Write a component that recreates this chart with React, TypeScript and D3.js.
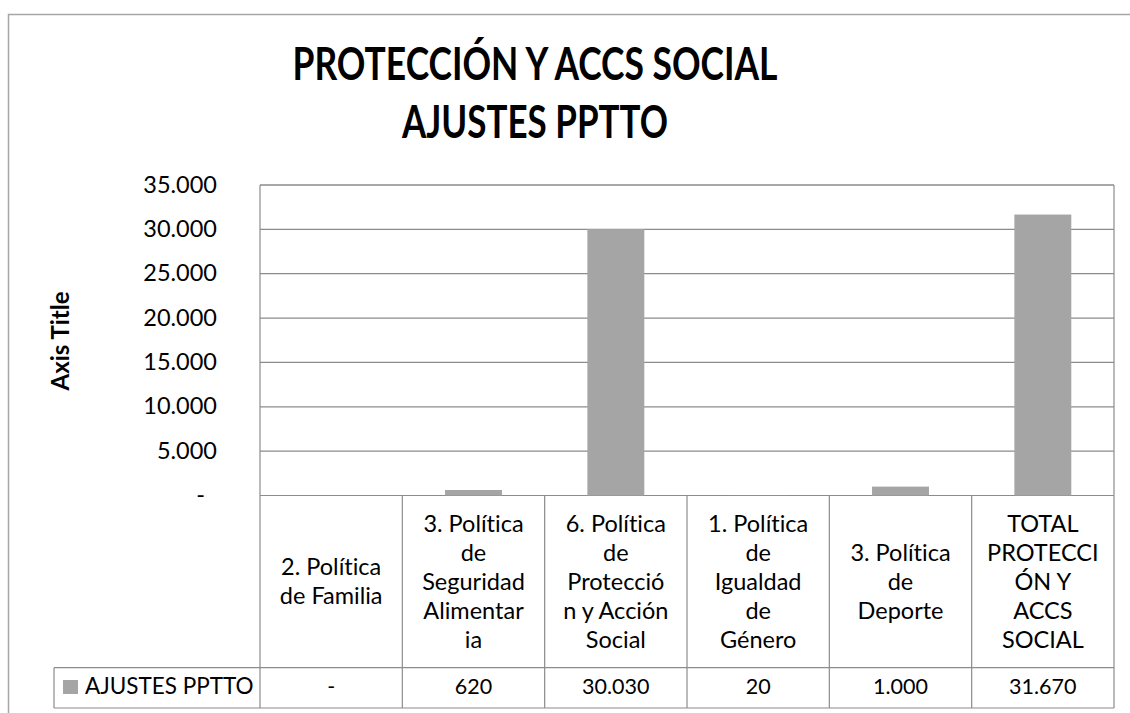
import React, { useEffect, useRef } from 'react';
import * as d3 from 'd3';

// categories as they appear wrapped in the data table under the chart
const categoryLines: string[][] = [
    ['2. Política', 'de Familia'],
    ['3. Política', 'de', 'Seguridad', 'Alimentar', 'ia'],
    ['6. Política', 'de', 'Protecció', 'n y Acción', 'Social'],
    ['1. Política', 'de', 'Igualdad', 'de', 'Género'],
    ['3. Política', 'de', 'Deporte'],
    ['TOTAL', 'PROTECCI', 'ÓN Y', 'ACCS', 'SOCIAL'],
];
const ajustes: number[] = [0, 620, 30030, 20, 1000, 31670];
const seriesName = 'AJUSTES PPTTO';
const yTicks: number[] = [0, 5000, 10000, 15000, 20000, 25000, 30000, 35000];
const titleLines: string[] = ['PROTECCIÓN Y ACCS SOCIAL', 'AJUSTES PPTTO'];

const fmt = (v: number) => (v === 0 ? '-' : d3.format(',.0f')(v).replace(/,/g, '.'));

function App() {
    const ref = useRef<SVGSVGElement>(null);

    useEffect(() => {
        const svg = d3.select(ref.current);
        svg.selectAll('*').remove();

        const width = 1130, height = 713;
        const left = 260, right = 1114, top = 185, bottom = 495.5;
        const rowY = 667.7, tableBottom = 708, legendLeft = 54;
        const font = 'Lato, "Open Sans", sans-serif';
        const gridColor = '#8c8c8c';
        const barColor = '#a5a5a5';

        svg.append('rect')
            .attr('width', width).attr('height', height).attr('fill', 'white');

        // chart frame (runs off the right and bottom)
        svg.append('rect')
            .attr('x', 8.5).attr('y', 14.5)
            .attr('width', width).attr('height', height)
            .attr('fill', 'none').attr('stroke', '#a6a6a6').attr('stroke-width', 1.5);

        const x = d3.scaleBand<number>()
            .domain(ajustes.map((_, i) => i))
            .range([left, right]);
        const y = d3.scaleLinear().domain([0, 35000]).range([bottom, top]);

        // title (Lato is wider than the original face, so squeeze it to width)
        const titleWidths = [485, 266];
        svg.append('g')
            .selectAll('text')
            .data(titleLines)
            .enter().append('text')
            .attr('x', 535).attr('y', (d, i) => 80 + i * 58)
            .attr('text-anchor', 'middle')
            .attr('textLength', (d, i) => titleWidths[i])
            .attr('lengthAdjust', 'spacingAndGlyphs')
            .attr('font-family', font).attr('font-weight', 'bold')
            .attr('font-size', 45).attr('fill', '#000')
            .text(d => d);

        // gridlines
        svg.append('g')
            .selectAll('line')
            .data(yTicks)
            .enter().append('line')
            .attr('x1', left).attr('x2', right)
            .attr('y1', d => y(d)).attr('y2', d => y(d))
            .attr('stroke', gridColor).attr('stroke-width', 1.2);

        // y tick labels
        svg.append('g')
            .selectAll('text')
            .data(yTicks)
            .enter().append('text')
            .attr('x', d => (d === 0 ? 205 : 217))
            .attr('y', d => y(d) + 7.5)
            .attr('text-anchor', 'end')
            .attr('font-family', font).attr('font-size', 23.5).attr('fill', '#000')
            .text(d => fmt(d));

        // axis title
        svg.append('text')
            .attr('transform', 'translate(69,341) rotate(-90)')
            .attr('text-anchor', 'middle')
            .attr('font-family', font).attr('font-weight', 'bold')
            .attr('font-size', 24).attr('fill', '#000')
            .text('Axis Title');

        // bars
        const barW = x.bandwidth() * 0.4;
        svg.append('g')
            .selectAll('rect')
            .data(ajustes)
            .enter().append('rect')
            .attr('x', (d, i) => (x(i) as number) + (x.bandwidth() - barW) / 2)
            .attr('y', d => y(d))
            .attr('width', barW)
            .attr('height', d => bottom - y(d))
            .attr('fill', barColor);

        // data table
        const t = svg.append('g').attr('stroke', gridColor).attr('stroke-width', 1.2);
        t.append('line').attr('x1', left).attr('x2', left).attr('y1', top).attr('y2', tableBottom);
        t.append('line').attr('x1', left).attr('x2', right).attr('y1', top).attr('y2', top);
        t.append('line').attr('x1', legendLeft).attr('x2', right).attr('y1', rowY).attr('y2', rowY);
        t.append('line').attr('x1', legendLeft).attr('x2', right).attr('y1', tableBottom).attr('y2', tableBottom);
        t.append('line').attr('x1', legendLeft).attr('x2', legendLeft).attr('y1', rowY).attr('y2', tableBottom);
        t.selectAll('.sep')
            .data(ajustes)
            .enter().append('line')
            .attr('class', 'sep')
            .attr('x1', (d, i) => (x(i) as number) + x.bandwidth())
            .attr('x2', (d, i) => (x(i) as number) + x.bandwidth())
            .attr('y1', bottom).attr('y2', tableBottom);
        t.append('line').attr('x1', right).attr('x2', right).attr('y1', top).attr('y2', bottom);

        const lineH = 29;
        const midY = (bottom + rowY) / 2;
        const cats = svg.append('g')
            .attr('font-family', font).attr('font-size', 23.5).attr('fill', '#000')
            .attr('text-anchor', 'middle');
        categoryLines.forEach((lines, i) => {
            const cx = (x(i) as number) + x.bandwidth() / 2;
            const first = midY - ((lines.length - 1) * lineH) / 2 + 8;
            lines.forEach((ln, j) => {
                cats.append('text').attr('x', cx).attr('y', first + j * lineH).text(ln);
            });
        });

        svg.append('g')
            .attr('font-family', font).attr('font-size', 21.5).attr('fill', '#000')
            .attr('text-anchor', 'middle')
            .selectAll('text')
            .data(ajustes)
            .enter().append('text')
            .attr('x', (d, i) => (x(i) as number) + x.bandwidth() / 2)
            .attr('y', 694)
            .text(d => fmt(d));

        // legend key
        svg.append('rect')
            .attr('x', 63).attr('y', 680).attr('width', 15).attr('height', 14)
            .attr('fill', barColor);
        svg.append('text')
            .attr('x', 85).attr('y', 694)
            .attr('font-family', font).attr('font-size', 22.5).attr('fill', '#000')
            .text(seriesName);

        svg.selectAll('text').style('font-variant-ligatures', 'none');
    }, []);

    return (
        <svg ref={ref} width={1130} height={713}
            style={{ position: 'absolute', left: 0, top: 0 }} />
    );
}

export default App;
